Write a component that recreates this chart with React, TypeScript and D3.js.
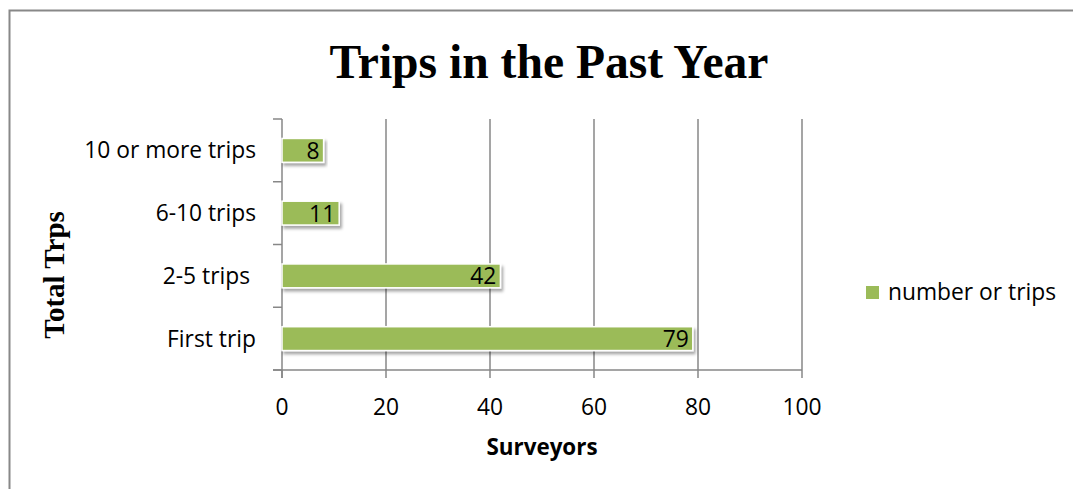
import React from "react";
import * as d3 from "d3";

const categories = ["10 or more trips", "6-10 trips", "2-5 trips ", "First trip"];
const values = [8, 11, 42, 79];
const xTicks = [0, 20, 40, 60, 80, 100];
const seriesName = "number or trips";
const title = "Trips in the Past Year";
const yTitle = "Total Trps";
const xTitle = "Surveyors";

const W = 1073;
const H = 489;
const SANS = "'Open Sans', sans-serif";
const SERIF = "'Liberation Serif', 'DejaVu Serif', serif";
const GREEN = "#9BBB59";
const GRID = "#878787";
const FS = 22.8;

export default function App() {
  const x = d3.scaleLinear().domain([0, 100]).range([282, 802]);
  const y = d3.scaleBand<string>().domain(categories).range([119, 370]).paddingInner(0.62).paddingOuter(0.31);
  const band = d3.scaleBand<string>().domain(categories).range([119, 370]);
  const bounds = [...categories.map((c) => band(c) as number), 370];

  return (
    <svg width={W} height={H} style={{ position: "absolute", left: 0, top: 0, background: "#fff" }}>
      <defs>
        <filter id="shadow" x="-10%" y="-30%" width="120%" height="180%">
          <feDropShadow dx="2" dy="3" stdDeviation="1.8" floodColor="#000" floodOpacity="0.35" />
        </filter>
      </defs>
      <rect x={9.5} y={10.5} width={W + 10} height={H + 10} fill="#fff" stroke="#888" strokeWidth={2} />
      <text x={549} y={78} textAnchor="middle" fontFamily={SERIF} fontWeight="bold" fontSize={47.6}>
        {title}
      </text>
      {xTicks.slice(1).map((t) => (
        <line key={t} x1={x(t)} x2={x(t)} y1={119} y2={370} stroke={GRID} strokeWidth={1.5} />
      ))}
      {/* x axis */}
      <line x1={273} x2={802} y1={370} y2={370} stroke={GRID} strokeWidth={1.5} />
      {xTicks.map((t) => (
        <line key={"xt" + t} x1={x(t)} x2={x(t)} y1={370} y2={378} stroke={GRID} strokeWidth={1.5} />
      ))}
      {xTicks.map((t) => (
        <text key={"xl" + t} x={x(t)} y={415} textAnchor="middle" fontFamily={SANS} fontSize={FS} fill="#000">
          {t}
        </text>
      ))}
      {/* y axis */}
      <line x1={282} x2={282} y1={119} y2={378} stroke={GRID} strokeWidth={1.5} />
      {bounds.map((b, i) => (
        <line key={"yt" + i} x1={273} x2={282} y1={b} y2={b} stroke={GRID} strokeWidth={1.5} />
      ))}
      {categories.map((c) => (
        <text
          key={"yl" + c}
          x={256}
          y={(band(c) as number) + band.bandwidth() / 2 + 8}
          textAnchor="end"
          fontFamily={SANS}
          fontSize={FS}
          style={{ whiteSpace: "pre" }}
        >
          {c}
        </text>
      ))}
      {/* bars */}
      {categories.map((c, i) => (
        <g key={"b" + c}>
          <rect
            x={x(0)}
            y={y(c)}
            width={x(values[i]) - x(0)}
            height={y.bandwidth()}
            fill={GREEN}
            stroke="#fff"
            strokeWidth={1.5}
            filter="url(#shadow)"
          />
          <text
            x={x(values[i]) - 4}
            y={(y(c) as number) + y.bandwidth() / 2 + 8.5}
            textAnchor="end"
            fontFamily={SANS}
            fontSize={FS}
            fill="#000"
          >
            {values[i]}
          </text>
        </g>
      ))}
      {/* axis titles */}
      <text
        transform={`translate(64,275) rotate(-90)`}
        textAnchor="middle"
        fontFamily={SERIF}
        fontWeight="bold"
        fontSize={29}
      >
        {yTitle}
      </text>
      <text x={542} y={455} textAnchor="middle" fontFamily={SANS} fontWeight="bold" fontSize={22.4}>
        {xTitle}
      </text>
      {/* legend */}
      <rect x={866} y={286} width={13} height={13} fill={GREEN} />
      <text x={888} y={300} fontFamily={SANS} fontSize={FS}>
        {seriesName}
      </text>
    </svg>
  );
}
